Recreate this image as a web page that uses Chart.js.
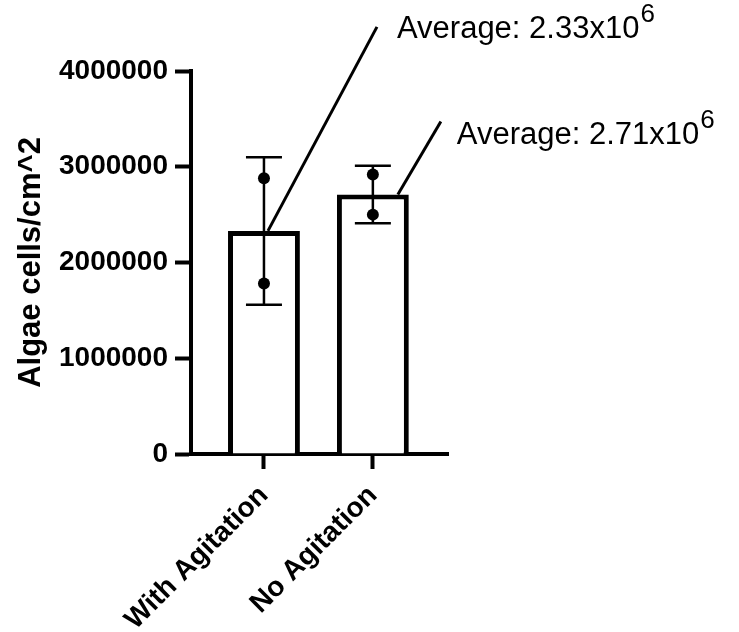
<!DOCTYPE html>
<html>
<head>
<meta charset="utf-8">
<script src="https://cdn.jsdelivr.net/npm/chart.js@4"></script>
<style>
  html, body { margin: 0; padding: 0; background: #fff; }
  canvas { display: block; }
</style>
</head>
<body>
<canvas id="algae" width="739" height="632"></canvas>
<script>
'use strict';

/* Algae density with / without agitation: mean bars, SD error bars, replicate dots. */

const categories = ['With Agitation', 'No Agitation'];
const means = [2330000, 2710000];
const sds = [770000, 300000];
const replicates = [
  [2880000, 1780000],
  [2920000, 2500000],
];
const yTicks = [0, 1000000, 2000000, 3000000, 4000000];

// callout layout (pixel offsets from the bar top / line end)
const callouts = [
  { startDx: 4, lineDx: 109, lineDy: -204, textDx: 20, textDy: 11 },
  { startDx: 25, lineDx: 43, lineDy: -73, textDx: 16, textDy: 22 },
];

const FONT = "'Liberation Sans', Arial, sans-serif";
Chart.defaults.font.family = FONT;
Chart.defaults.color = '#000';

const errorBars = {
  id: 'errorBars',
  afterDatasetDraw(chart, args) {
    if (args.index !== 0) return;
    const { ctx, scales: { x, y } } = chart;
    ctx.save();
    ctx.strokeStyle = '#000';
    ctx.lineWidth = 2.5;
    means.forEach((m, i) => {
      const cx = x.getPixelForValue(i + 1);
      const hi = y.getPixelForValue(m + sds[i]);
      const lo = y.getPixelForValue(m - sds[i]);
      ctx.beginPath();
      ctx.moveTo(cx, hi);
      ctx.lineTo(cx, lo);
      ctx.moveTo(cx - 18, hi);
      ctx.lineTo(cx + 18, hi);
      ctx.moveTo(cx - 18, lo);
      ctx.lineTo(cx + 18, lo);
      ctx.stroke();
    });
    ctx.restore();
  },
};

const averageCallouts = {
  id: 'averageCallouts',
  afterDraw(chart) {
    const { ctx, scales: { x, y } } = chart;
    ctx.save();
    means.forEach((m, i) => {
      const c = callouts[i];
      const sx = x.getPixelForValue(i + 1) + c.startDx;
      const sy = y.getPixelForValue(m);
      const ex = sx + c.lineDx;
      const ey = sy + c.lineDy;
      ctx.strokeStyle = '#000';
      ctx.lineWidth = 3;
      ctx.beginPath();
      ctx.moveTo(sx, sy);
      ctx.lineTo(ex, ey);
      ctx.stroke();

      const tx = ex + c.textDx;
      const ty = ey + c.textDy;
      const main = 'Average: ' + (m / 1e6).toFixed(2) + 'x10';
      ctx.fillStyle = '#000';
      ctx.textBaseline = 'alphabetic';
      ctx.textAlign = 'left';
      ctx.font = '31px ' + FONT;
      ctx.fillText(main, tx, ty);
      const w = ctx.measureText(main).width;
      ctx.font = '26px ' + FONT;
      ctx.fillText('6', tx + w + 1, ty - 16);
    });
    ctx.restore();
  },
};

const barData = means.map((m, i) => ({ x: i + 1, y: m }));
const dotData = replicates.flatMap((vals, i) => vals.map((v) => ({ x: i + 1, y: v })));

new Chart(document.getElementById('algae').getContext('2d'), {
  type: 'bar',
  data: {
    datasets: [
      {
        label: 'Mean',
        data: barData,
        backgroundColor: '#fff',
        borderColor: '#000',
        borderWidth: 5,
        barPercentage: 0.66,
        categoryPercentage: 1,
        order: 2,
      },
      {
        type: 'line',
        label: 'Replicates',
        data: dotData,
        showLine: false,
        pointRadius: 6,
        pointBackgroundColor: '#000',
        pointBorderColor: '#000',
        pointBorderWidth: 0,
        order: 1,
      },
    ],
  },
  options: {
    responsive: false,
    animation: false,
    layout: { padding: { top: 71, right: 291, left: 0, bottom: 0 } },
    scales: {
      x: {
        type: 'linear',
        min: 0.33,
        max: 2.69,
        offset: false,
        afterBuildTicks: (s) => { s.ticks = categories.map((c, i) => ({ value: i + 1 })); },
        afterFit: (s) => { s.height = 178; },
        grid: {
          offset: false,
          drawOnChartArea: false,
          tickLength: 15,
          tickWidth: 4,
          tickColor: '#000',
        },
        border: { color: '#000', width: 4 },
        ticks: {
          minRotation: 45,
          maxRotation: 45,
          padding: 10,
          color: '#000',
          font: { size: 28, weight: 'bold' },
          callback: (v) => categories[v - 1] || '',
        },
      },
      y: {
        min: 0,
        max: 4000000,
        afterBuildTicks: (s) => { s.ticks = yTicks.map((v) => ({ value: v })); },
        afterFit: (s) => { s.width = 191; },
        grid: {
          drawOnChartArea: false,
          tickLength: 16,
          tickWidth: 4,
          tickColor: '#000',
        },
        border: { color: '#000', width: 4 },
        ticks: {
          padding: 7,
          color: '#000',
          font: { size: 28, weight: 'bold' },
          callback: (v) => String(v),
        },
        title: {
          display: true,
          text: 'Algae cells/cm^2',
          color: '#000',
          font: { size: 31, weight: 'bold' },
          padding: { top: 13, bottom: 0 },
        },
      },
    },
    plugins: {
      legend: { display: false },
      tooltip: { enabled: false },
    },
  },
  plugins: [errorBars, averageCallouts],
});
</script>
</body>
</html>
